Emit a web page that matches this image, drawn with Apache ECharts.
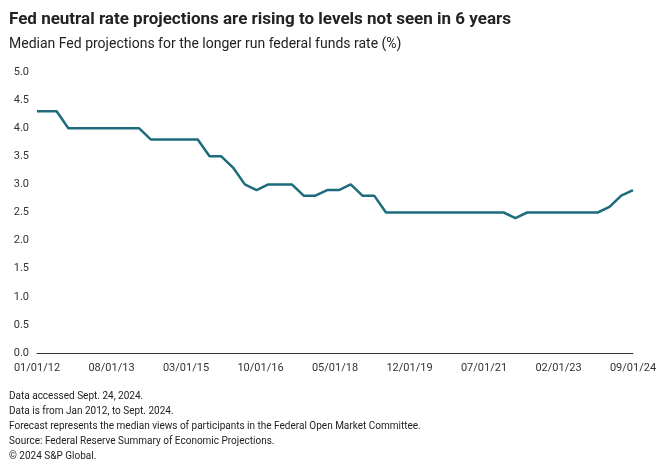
<!DOCTYPE html>
<html><head><meta charset="utf-8">
<script src="https://cdn.jsdelivr.net/npm/echarts@6/dist/echarts.min.js"></script>
<style>body{margin:0}#echart{width:660px;height:471px}</style>
</head><body><div id="echart"></div>
<script>
// months since Jan 2012
var months = [0,3,5,8,11,14,17,20,23,26,29,32,35,38,41,44,47,50,53,56,59,62,65,68,71,74,77,80,83,86,89,92,95,98,101,104,107,110,113,116,119,122,125,128,131,134,137,140,143,146,149,152];
var values = [4.3,4.3,4.3,4.0,4.0,4.0,4.0,4.0,4.0,4.0,3.8,3.8,3.8,3.8,3.8,3.5,3.5,3.3,3.0,2.9,3.0,3.0,3.0,2.8,2.8,2.9,2.9,3.0,2.8,2.8,2.5,2.5,2.5,2.5,2.5,2.5,2.5,2.5,2.5,2.5,2.5,2.4,2.5,2.5,2.5,2.5,2.5,2.5,2.5,2.6,2.8,2.9];
var notes = ['Data accessed Sept. 24, 2024.','Data is from Jan 2012, to Sept. 2024.','Forecast represents the median views of participants in the Federal Open Market Committee.','Source: Federal Reserve Summary of Economic Projections.','\u00a9 2024 S&P Global.'];

var myChart = echarts.init(document.getElementById('echart'));
var data = months.map(function (m, i) { return [m, values[i]]; });
function pad(n) { return (n < 10 ? '0' : '') + n; }
var option = {
	textStyle: { fontFamily: 'Roboto' },
	title: [{
		text: 'Fed neutral rate projections are rising to levels not seen in 6 years',
		left: 4, top: 6,
		textStyle: { fontSize: 17, fontWeight: 'bold', color: '#222' }
	}, {
		text: 'Median Fed projections for the longer run federal funds rate (%)',
		left: 4, top: 32,
		textStyle: { fontSize: 14, fontWeight: 'normal', color: '#222' }
	}, {
		text: notes.join('\n'),
		left: 4, top: 384,
		textStyle: { fontSize: 10, fontWeight: 'normal', color: '#222', lineHeight: 15 }
	}],
	grid: { left: 37, right: 27, top: 72, bottom: 118 },
	xAxis: {
		type: 'value', min: 0, max: 152, interval: 19,
		axisLine: { lineStyle: { color: '#333' } },
		axisTick: { show: false },
		splitLine: { show: false },
		axisLabel: {
			color: '#333', fontSize: 11, margin: 10,
			formatter: function (v) {
				var y = 12 + Math.floor(v / 12), m = v % 12 + 1;
				return pad(m) + '/01/' + y;
			}
		}
	},
	yAxis: {
		type: 'value', min: 0, max: 5, interval: 0.5,
		axisLine: { show: false }, axisTick: { show: false },
		splitLine: { show: false },
		axisLabel: { color: '#333', fontSize: 11, formatter: function (v) { return v.toFixed(1); } }
	},
	series: [{
		type: 'line', data: data, symbol: 'none',
		lineStyle: { color: '#1d6b7c', width: 2.5 }
	}]
};
myChart.setOption(option);
</script></body></html>
